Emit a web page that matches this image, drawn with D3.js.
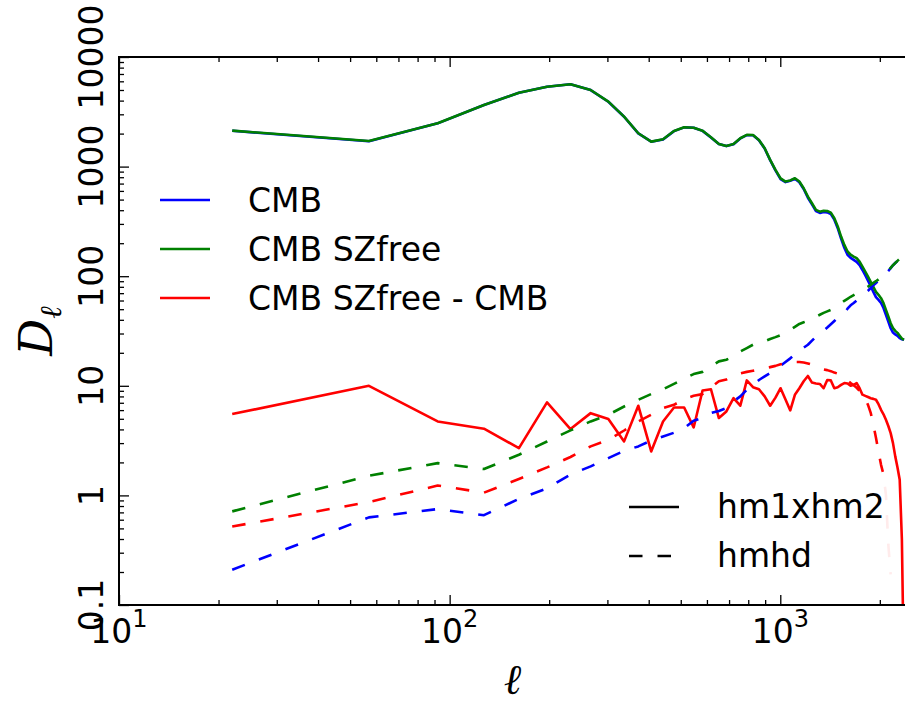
<!DOCTYPE html>
<html>
<head>
<meta charset="utf-8">
<script src="https://cdn.jsdelivr.net/npm/d3@7"></script>
<style>
body { margin: 0; background: #fff; }
text { font-family: "DejaVu Sans", sans-serif; }
</style>
</head>
<body>
<div id="chart"></div>
<script>
// multipole bin centres
const ell = [22, 57, 92, 127, 162, 197, 232, 267, 302, 337, 372, 407, 442, 477, 512, 547, 582, 617,
    652, 687, 722, 757, 792, 827, 862, 897, 932, 967, 1002, 1037, 1072, 1107, 1142, 1177, 1212, 1247,
    1282, 1317, 1352, 1387, 1422, 1457, 1492, 1527, 1562, 1597, 1632, 1667, 1702, 1737, 1772, 1807,
    1842, 1877, 1912, 1947, 1982, 2017, 2052, 2087, 2122, 2157, 2192, 2227, 2262, 2297, 2332, 2367];

// hm1xhm2 (solid)
const cmbHm = [2123, 1704, 2481, 3646, 4722, 5353, 5636, 4994, 3908, 2852, 2007, 1687, 1769, 2108,
    2279, 2261, 2119, 1844, 1605, 1538, 1602, 1808, 1935, 1930, 1741, 1461, 1144, 925, 770, 722, 742,
    775, 720, 624, 520, 452, 392, 378, 386, 382, 369, 328, 274, 220, 182, 157, 147, 141, 135, 126, 114,
    102, 91, 81, 72, 64.5, 60.8, 57, 51.3, 44.4, 38.6, 33.5, 30.6, 29.4, 28.6, 27.2, 26.6, 26.3];
const szfreeHm = [2128, 1714, 2486, 3650, 4725, 5360, 5640, 5000, 3913, 2855, 2014, 1690, 1774, 2114,
    2285, 2265, 2128, 1853, 1610, 1544, 1610, 1815, 1946, 1940, 1750, 1469, 1151, 933, 780, 730, 748,
    783, 730, 635, 532, 463, 403, 388, 396, 393, 380, 338, 284, 230, 193, 168, 157, 151, 146, 136, 122,
    110, 99, 89, 80, 72, 67.6, 63, 56.8, 49.3, 42.9, 37.2, 33.6, 31.7, 30.4, 28.6, 27, 26.3];
const diffHm = [5.52, 10.0, 4.73, 4.06, 2.70, 7.05, 4.03, 5.63, 4.97, 3.11, 6.58, 2.52, 4.73, 6.34,
    6.34, 4.17, 9.06, 9.3, 5.08, 5.84, 7.73, 6.58, 11.2, 9.72, 9.3, 8.0, 6.58, 7.8, 9.5, 7.5, 5.96,
    8.28, 9.5, 11.0, 12.3, 10.7, 10.5, 10.4, 9.5, 11.3, 11.2, 9.5, 9.7, 10.2, 10.6, 10.5, 10.0, 10.2,
    10.6, 9.5, 8.3, 8.1, 7.9, 7.7, 7.6, 7.46, 6.8, 6.04, 5.5, 4.9, 4.3, 3.7, 3.0, 2.27, 1.8, 1.39, 0.4, 0.02];

// hmhd (dashed)
const cmbHd = [0.21, 0.63, 0.75, 0.66, 0.93, 1.16, 1.55, 1.84, 2.19, 2.55, 2.8, 3.17, 3.45, 3.73,
    4.11, 4.8, 5.08, 5.64, 5.9, 6.27, 7.2, 8.0, 9.2, 10.2, 11.3, 12.2, 13.1, 14.1, 15.2, 16.5, 17.8,
    19.3, 20.9, 22.3, 23.7, 25.8, 28.0, 29.9, 31.8, 34.0, 36.4, 39.0, 41.7, 44.0, 46.3, 50.5, 54.3,
    57, 60, 63.3, 66.7, 70.2, 73.7, 78, 82.5, 86.7, 91, 96, 101.5, 106.5, 111.6, 118.5, 126, 132, 138,
    144, 150, 157];
const szfreeHd = [0.715, 1.51, 1.97, 1.74, 2.35, 3.1, 3.92, 4.73, 5.44, 6.47, 7.45, 8.4, 9.3, 10.4,
    11.6, 12.8, 13.4, 15.0, 16.7, 17.3, 18.5, 20.6, 22.1, 23.7, 24.2, 25.5, 26.7, 27.8, 29.0, 30.7,
    32.4, 34.5, 36.7, 38, 39.2, 41, 42.6, 44.5, 46.3, 47.8, 49.3, 51.5, 53.7, 56.5, 59.6, 62.2, 64.9,
    67.2, 69.5, 72.2, 75, 77.7, 80.4, 83.6, 86.9, 90, 93.5, 98, 103, 107.5, 112, 119, 126, 132, 138,
    144, 150, 157];
const diffHd = [0.52, 0.87, 1.23, 1.06, 1.41, 1.80, 2.24, 2.80, 3.22, 3.91, 4.73, 5.44, 6.26, 6.71,
    7.56, 8.1, 8.4, 9.7, 11.0, 11.4, 12.2, 13.0, 13.4, 13.7, 14.0, 14.4, 14.8, 15.2, 15.7, 16.1, 16.4,
    16.5, 16.5, 16.3, 16.0, 15.6, 15.2, 14.6, 14.1, 13.9, 13.6, 13.2, 12.9, 12.4, 11.8, 11.2, 10.6,
    10.1, 9.6, 9.0, 8.3, 7.6, 6.7, 5.67, 4.41, 3.36, 2.5, 1.9, 1.55, 1.01, 0.355, 0.19,
    null, null, null, null, null, null];

const colorNames = ['CMB', 'CMB SZfree', 'CMB SZfree - CMB'];
const colors = ['#0000ff', '#008000', '#ff0000'];
const styleNames = ['hm1xhm2', 'hmhd'];
const yTickLabels = ['0.1', '1', '10', '100', '1000', '10000'];
const xTickExps = [1, 2, 3];

const W = 905, H = 704;
const pL = 119, pT = 57, pR = 906, pB = 605;
const dash = '13.5,15';
const fs = 33;

const svg = d3.select('#chart').append('svg')
    .attr('width', W)
    .attr('height', H);

const x = d3.scaleLog().domain([10, 2400]).range([pL, pR]);
const y = d3.scaleLog().domain([0.1, 10000]).range([pB, pT]);

svg.append('clipPath').attr('id', 'clip')
    .append('rect')
    .attr('x', pL).attr('y', pT)
    .attr('width', pR - pL).attr('height', pB - pT);

const line = d3.line()
    .defined(d => d[1] != null && d[1] > 0)
    .x(d => x(d[0]))
    .y(d => y(d[1]));

const series = [
    {vals: cmbHm, color: colors[0], dashed: false},
    {vals: szfreeHm, color: colors[1], dashed: false},
    {vals: diffHm, color: colors[2], dashed: false},
    {vals: cmbHd, color: colors[0], dashed: true},
    {vals: szfreeHd, color: colors[1], dashed: true},
    {vals: diffHd, color: colors[2], dashed: true}
];

const plot = svg.append('g').attr('clip-path', 'url(#clip)');
series.forEach(s => {
    plot.append('path')
        .datum(ell.map((l, i) => [l, s.vals[i]]))
        .attr('d', line)
        .attr('fill', 'none')
        .attr('stroke', s.color)
        .attr('stroke-width', 2.6)
        .attr('stroke-linejoin', 'round')
        .attr('stroke-dasharray', s.dashed ? dash : null);
});

// ticks, pointing inward
function minors(lo, hi) {
    let out = [];
    for (let e = lo; e < hi; e++)
        for (let m = 2; m <= 9; m++) out.push(m * Math.pow(10, e));
    return out;
}
const xMaj = [10, 100, 1000];
const xMin = minors(1, 4).filter(v => v < 2400);
const yMaj = [0.1, 1, 10, 100, 1000, 10000];
const yMin = minors(-1, 4);

function ticks(axis, vals, size, tx) {
    const g = svg.append('g').attr('transform', tx)
        .call(axis.tickValues(vals).tickSize(-size).tickSizeOuter(0).tickFormat(''));
    g.select('.domain').remove();
    g.selectAll('.tick line').attr('stroke', '#000').attr('stroke-width', 1.3);
}
ticks(d3.axisBottom(x), xMaj, 10, `translate(0,${pB})`);
ticks(d3.axisBottom(x), xMin, 5, `translate(0,${pB})`);
ticks(d3.axisTop(x), xMaj, 10, `translate(0,${pT})`);
ticks(d3.axisTop(x), xMin, 5, `translate(0,${pT})`);
ticks(d3.axisLeft(y), yMaj, 10, `translate(${pL},0)`);
ticks(d3.axisLeft(y), yMin, 5, `translate(${pL},0)`);

// spines
svg.append('path')
    .attr('d', `M${pR},${pT}H${pL}V${pB}H${pR}`)
    .attr('fill', 'none')
    .attr('stroke', '#000')
    .attr('stroke-width', 2);

// y tick labels (rotated)
yMaj.forEach((v, i) => {
    svg.append('text')
        .attr('transform', `translate(103,${y(v)}) rotate(-90)`)
        .attr('text-anchor', 'middle')
        .attr('font-size', fs)
        .text(yTickLabels[i]);
});

// x tick labels 10^n
xTickExps.forEach(e => {
    const t = svg.append('text')
        .attr('x', x(Math.pow(10, e)))
        .attr('y', 643)
        .attr('text-anchor', 'middle')
        .attr('font-size', fs);
    t.append('tspan').text('10');
    t.append('tspan').attr('font-size', 24).attr('dy', -16).text(e);
});

// axis labels
const yl = svg.append('text')
    .attr('transform', `translate(52,${(pT + pB) / 2}) rotate(-90)`)
    .attr('text-anchor', 'middle')
    .style('font-family', '"DejaVu Serif", serif')
    .attr('font-style', 'italic')
    .attr('font-size', 46);
yl.append('tspan').text('D');
yl.append('tspan').attr('font-size', 30).attr('dy', 9).text('ℓ');

svg.append('text')
    .attr('x', (pL + pR) / 2)
    .attr('y', 694)
    .attr('text-anchor', 'middle')
    .style('font-family', '"DejaVu Serif", serif')
    .attr('font-style', 'italic')
    .attr('font-size', 42)
    .text('ℓ');

// legend: colours
colorNames.forEach((name, i) => {
    const ly = 200 + i * 49;
    svg.append('line')
        .attr('x1', 160).attr('x2', 210)
        .attr('y1', ly).attr('y2', ly)
        .attr('stroke', colors[i])
        .attr('stroke-width', 2.6);
    svg.append('text')
        .attr('x', 248).attr('y', ly + 12)
        .attr('font-size', fs)
        .text(name);
});

// legend: line styles
svg.append('rect')
    .attr('x', 612).attr('y', 480)
    .attr('width', 284).attr('height', 106)
    .attr('fill', '#fff')
    .attr('opacity', 0.92);
styleNames.forEach((name, i) => {
    const ly = 507 + i * 49;
    svg.append('line')
        .attr('x1', 629).attr('x2', 679)
        .attr('y1', ly).attr('y2', ly)
        .attr('stroke', '#000')
        .attr('stroke-width', 2.6)
        .attr('stroke-dasharray', i ? dash : null);
    svg.append('text')
        .attr('x', 717).attr('y', ly + 11)
        .attr('font-size', fs)
        .text(name);
});
</script>
</body>
</html>
